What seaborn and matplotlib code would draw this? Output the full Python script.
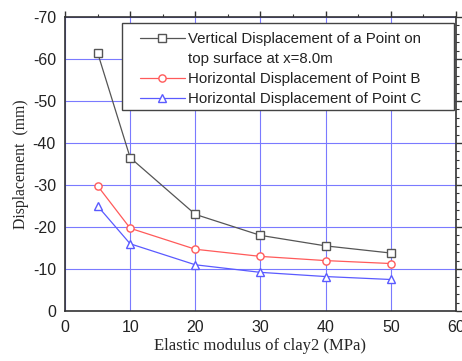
import matplotlib
matplotlib.use("Agg")
import matplotlib.pyplot as plt
from matplotlib.lines import Line2D
from matplotlib.patches import Rectangle
from matplotlib.ticker import MultipleLocator
import seaborn as sns
import pandas as pd

# Elastic modulus of clay2 (MPa)
modulus = [5, 10, 20, 30, 40, 50]
# Displacements (mm)
vertical_top = [-61.5, -36.5, -23.0, -18.0, -15.5, -13.8]
horizontal_b = [-29.8, -19.7, -14.7, -13.0, -12.0, -11.3]
horizontal_c = [-25.0, -16.0, -11.0, -9.2, -8.2, -7.5]

labels = [
    "Vertical Displacement of a Point on",
    "Horizontal Displacement of Point B",
    "Horizontal Displacement of Point C",
]
label_cont = "top surface at x=8.0m"
series = [vertical_top, horizontal_b, horizontal_c]
colors = ["#555555", "#ff5a5a", "#5a5aff"]
markers = ["s", "o", "^"]

sns.set_style("white")
plt.rcParams["font.family"] = ["Liberation Sans", "DejaVu Sans"]
plt.rcParams["axes.unicode_minus"] = False

fig = plt.figure(figsize=(4.62, 3.61), dpi=100)
ax = fig.add_axes([0.1407, 0.1385, 0.987 - 0.1407, 0.953 - 0.1385])

for vals, lab, col, mk in zip(series, labels, colors, markers):
    df = pd.DataFrame({"E": modulus, "d": vals})
    sns.lineplot(data=df, x="E", y="d", ax=ax, color=col, marker=mk,
                 markersize=5.2, markerfacecolor="white", markeredgecolor=col,
                 markeredgewidth=1.0, linewidth=0.9, label=lab)

ax.set_xlim(0, 60)
ax.set_ylim(0, -70)
ax.xaxis.set_major_locator(MultipleLocator(10))
ax.xaxis.set_minor_locator(MultipleLocator(5))
ax.yaxis.set_major_locator(MultipleLocator(10))
ax.yaxis.set_minor_locator(MultipleLocator(2))
ax.grid(True, which="major", color="#7a7aff", linewidth=0.8)
ax.set_axisbelow(True)

for sp in ax.spines.values():
    sp.set_color("#333333")
    sp.set_linewidth(1.2)

ax.tick_params(which="both", direction="out", top=True, right=True,
               labeltop=False, labelright=False, color="#333333")
ax.tick_params(which="major", length=4, width=1.0, labelsize=11.5,
               labelcolor="#222222", pad=2.5)
ax.tick_params(which="minor", length=2.5, width=0.8)

ax.set_xlabel("Elastic modulus of clay2 (MPa)", family="Liberation Serif",
              fontsize=12, labelpad=2)
ax.set_ylabel("Displacement  (mm)", family="Liberation Serif",
              fontsize=11.3, labelpad=3)

# Legend: the first entry's wrapped second line sits on a blank handle
handles, labs = ax.get_legend_handles_labels()
blank = Line2D([], [], linestyle="none")
handles = [handles[0], blank, handles[1], handles[2]]
labs = [labs[0], label_cont, labs[1], labs[2]]

frame = Rectangle((0.1458, 0.6837), 0.9949 - 0.1458, 0.9796 - 0.6837,
                  transform=ax.transAxes, facecolor="white",
                  edgecolor="#444444", linewidth=1.0, zorder=4.9)
ax.add_patch(frame)

leg = ax.legend(handles, labs, loc="upper left",
                bbox_to_anchor=(0.1918, 0.949),
                fontsize=10.8, frameon=False,
                handlelength=3.0, handletextpad=0.2, borderpad=0,
                borderaxespad=0, labelspacing=0.4)
for t in leg.get_texts():
    t.set_color("#222222")

fig.savefig("out.png", dpi=100)
